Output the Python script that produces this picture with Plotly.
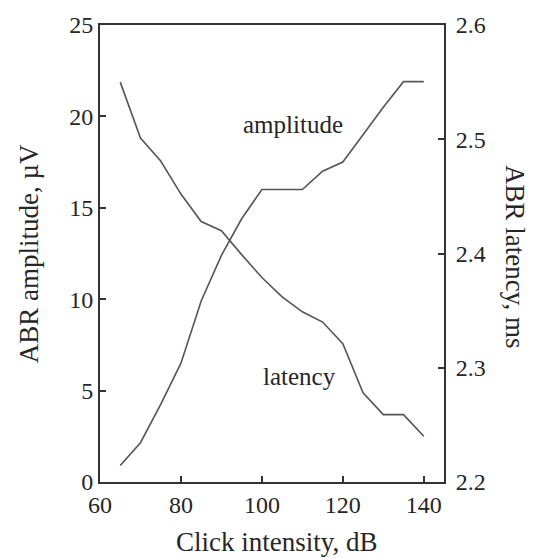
import plotly.graph_objects as go

intensity = [65, 70, 75, 80, 85, 90, 95, 100, 105, 110, 115, 120, 125, 130, 135, 140]
amplitude = [0.9, 2.15, 4.25, 6.5, 9.9, 12.4, 14.4, 16.0, 16.0, 16.0, 17.0, 17.5, 19.0, 20.5, 21.9, 21.9]
latency = [2.550, 2.501, 2.481, 2.452, 2.428, 2.420, 2.399, 2.379, 2.362, 2.349,
           2.340, 2.321, 2.278, 2.259, 2.259, 2.240]

x_ticks = [60, 80, 100, 120, 140]
amp_ticks = [0, 5, 10, 15, 20, 25]
lat_ticks = [2.2, 2.3, 2.4, 2.5, 2.6]

FONT = "Liberation Serif"
TXT = "#262626"
AX = "#333333"
LINE = "#555555"

fig = go.Figure()
fig.add_trace(go.Scatter(x=intensity, y=amplitude, mode="lines",
                         line=dict(color=LINE, width=1.6), yaxis="y", showlegend=False))
fig.add_trace(go.Scatter(x=intensity, y=latency, mode="lines",
                         line=dict(color=LINE, width=1.6), yaxis="y2", showlegend=False))

fig.update_layout(
    width=537, height=558,
    margin=dict(l=100, r=93, t=23, b=76),
    plot_bgcolor="white", paper_bgcolor="white",
    font=dict(family=FONT, color=TXT, size=24),
    xaxis=dict(range=[60, 145], tickvals=x_ticks, ticks="inside", ticklen=6, tickwidth=1.5,
               tickcolor=AX, showline=True, linecolor=AX, linewidth=2, mirror=True,
               showgrid=False, zeroline=False, tickfont=dict(size=24, family=FONT, color=TXT)),
    yaxis=dict(range=[0, 25], tickvals=amp_ticks, ticks="inside", ticklen=6, tickwidth=1.5,
               tickcolor=AX, showline=True, linecolor=AX, linewidth=2,
               showgrid=False, zeroline=False, tickfont=dict(size=24, family=FONT, color=TXT)),
    yaxis2=dict(range=[2.2, 2.6], tickvals=lat_ticks, tickformat=".1f", ticks="inside", ticklen=6,
                tickwidth=1.5, tickcolor=AX, showline=True, linecolor=AX, linewidth=2,
                overlaying="y", side="right", showgrid=False, zeroline=False,
                ticklabelstandoff=5,
                tickfont=dict(size=24, family=FONT, color=TXT)),
    annotations=[
        dict(text="amplitude", x=107.6, y=19.55, xref="x", yref="y", showarrow=False,
             font=dict(size=25, family=FONT, color=TXT), xanchor="center", yanchor="middle"),
        dict(text="latency", x=109.4, y=5.77, xref="x", yref="y", showarrow=False,
             font=dict(size=25, family=FONT, color=TXT), xanchor="center", yanchor="middle"),
        dict(text="Click intensity, dB", x=0.515, y=-0.131, xref="paper", yref="paper",
             showarrow=False, font=dict(size=27, family=FONT, color=TXT),
             xanchor="center", yanchor="middle"),
        dict(text="ABR amplitude, µV", x=-0.207, y=0.5, xref="paper", yref="paper",
             showarrow=False, textangle=-90, font=dict(size=27, family=FONT, color=TXT),
             xanchor="center", yanchor="middle"),
        dict(text="ABR latency, ms", x=1.207, y=0.494, xref="paper", yref="paper",
             showarrow=False, textangle=90, font=dict(size=27, family=FONT, color=TXT),
             xanchor="center", yanchor="middle"),
    ],
)

fig.write_html("out.html")
